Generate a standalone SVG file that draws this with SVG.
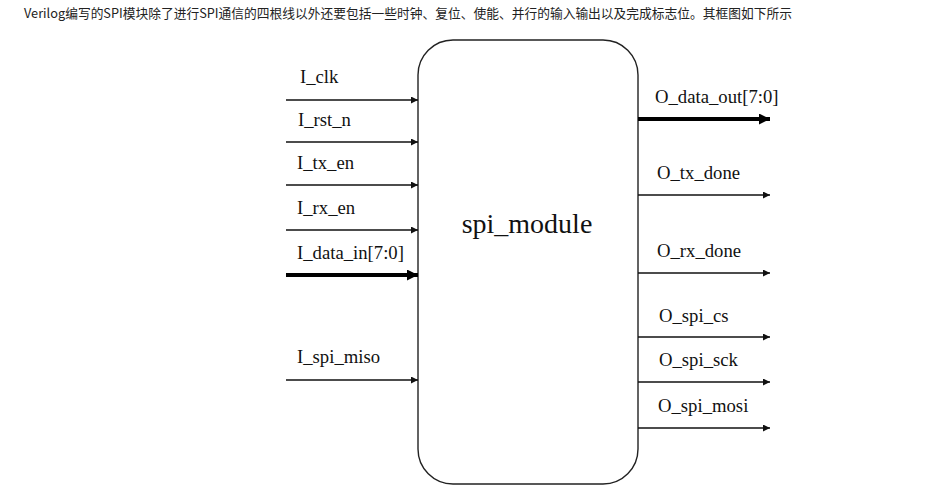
<svg xmlns="http://www.w3.org/2000/svg" width="935" height="503" viewBox="0 0 935 503">
<style>
.lbl{font-family:"Liberation Serif","Times New Roman",serif;font-size:18.7px;fill:#111}
.thin{stroke:#111;stroke-width:1.4;fill:none}
.thick{stroke:#000;stroke-width:4;fill:none}
</style>
<defs>
<marker id="ah" viewBox="0 0 10 10" refX="10" refY="5" markerWidth="9" markerHeight="7" markerUnits="userSpaceOnUse" orient="auto"><path d="M0,0L10,5L0,10z" fill="#111"/></marker>
<marker id="ahb" viewBox="0 0 10 10" refX="10" refY="5" markerWidth="14" markerHeight="11" markerUnits="userSpaceOnUse" orient="auto"><path d="M0,0L10,5L0,10z" fill="#000"/></marker>
</defs>
<rect width="935" height="503" fill="#fff"/>
<text x="24" y="18" font-family="'Microsoft YaHei','Noto Sans CJK SC',sans-serif" font-size="13" fill="#222" textLength="768" lengthAdjust="spacingAndGlyphs">Verilog编写的SPI模块除了进行SPI通信的四根线以外还要包括一些时钟、复位、使能、并行的输入输出以及完成标志位。其框图如下所示</text>
<g id="spi_module">
<rect x="418" y="40" width="220" height="444" rx="35" ry="35" fill="#fff" stroke="#222" stroke-width="1.4"/>
<text x="527" y="233" text-anchor="middle" font-family="'Liberation Serif','Times New Roman',serif" font-size="28" fill="#111">spi_module</text>
</g>
<g id="connectors">
<line class="thin" x1="286" y1="100" x2="418" y2="100" marker-end="url(#ah)"/>
<line class="thin" x1="286" y1="142" x2="418" y2="142" marker-end="url(#ah)"/>
<line class="thin" x1="286" y1="185" x2="418" y2="185" marker-end="url(#ah)"/>
<line class="thin" x1="286" y1="230" x2="418" y2="230" marker-end="url(#ah)"/>
<line class="thick" x1="286" y1="275" x2="418" y2="275" marker-end="url(#ahb)"/>
<line class="thin" x1="286" y1="380" x2="418" y2="380" marker-end="url(#ah)"/>
<line class="thick" x1="638" y1="119" x2="770" y2="119" marker-end="url(#ahb)"/>
<line class="thin" x1="638" y1="195" x2="770" y2="195" marker-end="url(#ah)"/>
<line class="thin" x1="638" y1="273" x2="770" y2="273" marker-end="url(#ah)"/>
<line class="thin" x1="638" y1="337" x2="770" y2="337" marker-end="url(#ah)"/>
<line class="thin" x1="638" y1="382" x2="770" y2="382" marker-end="url(#ah)"/>
<line class="thin" x1="638" y1="428" x2="770" y2="428" marker-end="url(#ah)"/>
</g>
<g id="labels">
<text class="lbl" x="300" y="83">I_clk</text>
<text class="lbl" x="298" y="126">I_rst_n</text>
<text class="lbl" x="297" y="169">I_tx_en</text>
<text class="lbl" x="297" y="214">I_rx_en</text>
<text class="lbl" x="297" y="259">I_data_in[7:0]</text>
<text class="lbl" x="297" y="363">I_spi_miso</text>
<text class="lbl" x="655" y="103">O_data_out[7:0]</text>
<text class="lbl" x="657" y="179">O_tx_done</text>
<text class="lbl" x="657" y="257">O_rx_done</text>
<text class="lbl" x="659" y="322">O_spi_cs</text>
<text class="lbl" x="659" y="366">O_spi_sck</text>
<text class="lbl" x="658" y="412">O_spi_mosi</text>
</g>
</svg>
